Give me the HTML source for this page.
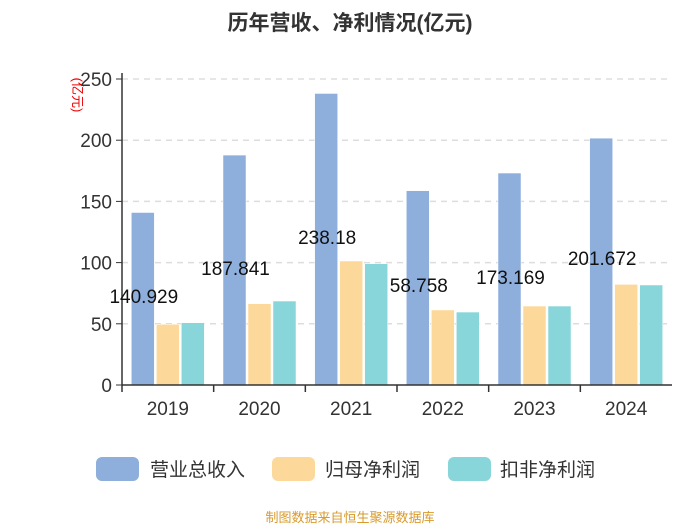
<!DOCTYPE html>
<html><head><meta charset="utf-8"><style>
body{margin:0;background:#fff;}
svg{display:block;font-family:"Liberation Sans","Noto Sans CJK SC",sans-serif;}
</style></head><body>
<svg id="chart" width="700" height="525" viewBox="0 0 700 525">
<text x="350" y="30" text-anchor="middle" font-size="21" font-weight="bold" fill="#333">历年营收、净利情况(亿元)</text>
<text transform="translate(73,95) rotate(90)" text-anchor="middle" font-size="13" fill="#e00">(亿元)</text>
<g id="grid"></g><g id="bars"></g><g id="axes"></g><g id="labels"></g>
<g>
<g><rect x="96" y="457" width="43" height="24" rx="6" fill="#8eaedc"/><text x="150" y="476" font-size="19" fill="#333">营业总收入</text></g>
<g><rect x="272" y="457" width="43" height="24" rx="6" fill="#fdd89b"/><text x="325" y="476" font-size="19" fill="#333">归母净利润</text></g>
<g><rect x="448" y="457" width="43" height="24" rx="6" fill="#88d6d9"/><text x="500" y="476" font-size="19" fill="#333">扣非净利润</text></g>
</g>
<text x="350" y="522" text-anchor="middle" font-size="13" fill="#d99a2b">制图数据来自恒生聚源数据库</text>
</svg>
<script>
const categories=["2019","2020","2021","2022","2023","2024"];
const revenue=[140.929,187.841,238.18,158.758,173.169,201.672];
const netProfit=[49.6,66.4,101.3,61.3,64.5,82.2];
const deductedProfit=[50.9,68.6,99.1,59.6,64.5,81.7];
const valueLabels=["140.929","187.841","238.18","58.758","173.169","201.672"];
const labelAnchors=[72.7,95.6,120.9,81.7,88.2,103.8];
const yTicks=[0,50,100,150,200,250];
const NS="http://www.w3.org/2000/svg";
const L=122,R=672,Y0=385,Y1=79,MAX=250;
const band=(R-L)/categories.length;
const y=v=>Y0-(v/MAX)*(Y0-Y1);
const x=i=>L+band*i;
function mk(t,a,p){const e=document.createElementNS(NS,t);for(const k in a)e.setAttribute(k,a[k]);p.appendChild(e);return e;}
const grid=document.getElementById('grid'),bars=document.getElementById('bars'),axes=document.getElementById('axes'),labels=document.getElementById('labels');
yTicks.forEach(t=>{
 if(t>0){const g=mk('line',{x1:L,x2:R,y1:y(t),y2:y(t),stroke:'#ddd','stroke-dasharray':'6,5','stroke-width':1.5},grid);
 
 }
 const tk=mk('line',{x1:L-6,x2:L,y1:y(t),y2:y(t),stroke:'#333'},axes);
 
 
 const tx=mk('text',{x:L-10,y:y(t)+7,'text-anchor':'end','font-size':19,fill:'#333'},axes);tx.textContent=t;
 
 
});
const ya=mk('line',{x1:L,x2:L,y1:Y1-6,y2:Y0,stroke:'#333','stroke-width':1.5},axes);


const xa=mk('line',{x1:L,x2:R,y1:Y0,y2:Y0,stroke:'#333','stroke-width':1.5},axes);


const series=[[revenue,'#8eaedc','revenue'],[netProfit,'#fdd89b','net-profit'],[deductedProfit,'#88d6d9','deducted-profit']];
const bw=23,gap=2,gw=bw*3+gap*2;
categories.forEach((c,i)=>{
 const tk=mk('line',{x1:x(i),x2:x(i),y1:Y0,y2:Y0+7,stroke:'#333','stroke-width':1.5},axes);
 
 
 const cx=x(i)+band/2;
 const tl=mk('text',{x:cx,y:Y0+30,'text-anchor':'middle','font-size':19,fill:'#333'},axes);tl.textContent=c;
 
 
 series.forEach((s,j)=>{
  const v=s[0][i];const bx=cx-gw/2+j*(bw+gap);
  const b=mk('rect',{x:bx,y:y(v),width:bw,height:Y0-y(v),fill:s[1],stroke:'#fff','stroke-width':0.5},bars);
  
  
 });
 const lb=mk('text',{x:cx-24,y:y(labelAnchors[i])+7,'text-anchor':'middle','font-size':19,fill:'#111'},labels);
 lb.textContent=valueLabels[i];
 
 
});
</script>
</body></html>
